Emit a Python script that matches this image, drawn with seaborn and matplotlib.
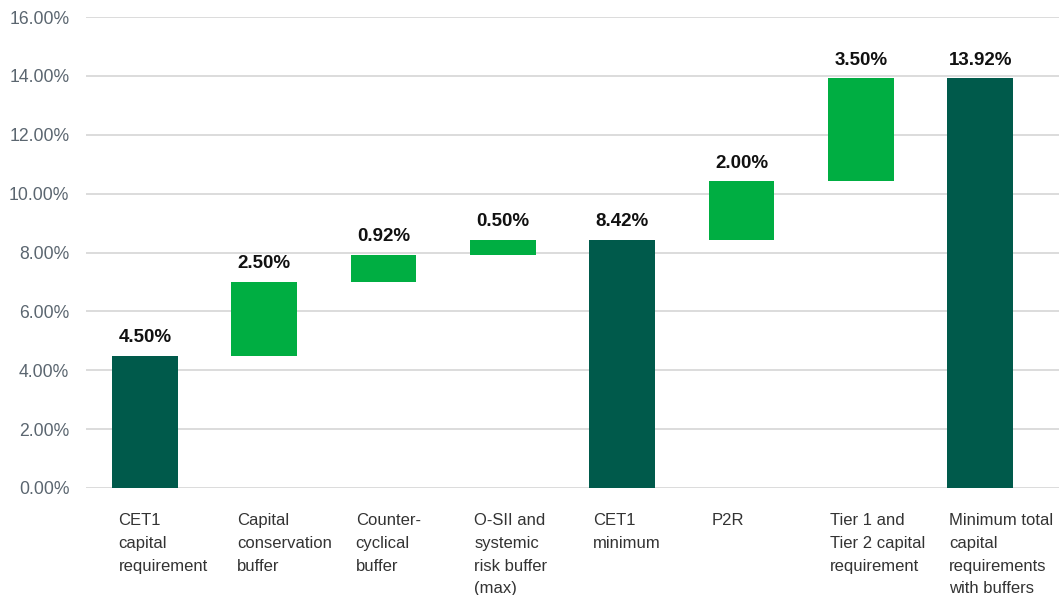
import matplotlib
matplotlib.use("Agg")
import matplotlib.pyplot as plt
import seaborn as sns
import numpy as np
import pandas as pd
from matplotlib.ticker import FuncFormatter

categories = ["CET1\ncapital\nrequirement", "Capital\nconservation\nbuffer", "Counter-\ncyclical\nbuffer",
              "O-SII and\nsystemic\nrisk buffer\n(max)", "CET1\nminimum", "P2R",
              "Tier 1 and\nTier 2 capital\nrequirement", "Minimum total\ncapital\nrequirements\nwith buffers"]
values = [4.50, 2.50, 0.92, 0.50, 8.42, 2.00, 3.50, 13.92]
bottoms = [0, 4.50, 7.00, 7.92, 0, 8.42, 10.42, 0]
kinds = ["total", "step", "step", "step", "total", "step", "step", "total"]
yticks = [0, 2, 4, 6, 8, 10, 12, 14, 16]

DARK = "#005A4B"
GREEN = "#00AE42"

sns.set_theme(style="white")
plt.rcParams["font.family"] = ["Liberation Sans", "DejaVu Sans"]

fig = plt.figure(figsize=(10.59, 5.95), dpi=100)
ax = fig.add_axes([86/1059, 1-488/595, 1-86/1059, (488-17)/595])

df = pd.DataFrame({"cat": categories, "val": values})
sns.barplot(data=df, x="cat", y="val", bottom=bottoms, width=0.55, color=GREEN,
            saturation=1, ax=ax, zorder=3)
for p, k in zip(ax.patches, kinds):
    p.set_facecolor(DARK if k == "total" else GREEN)
    p.set_edgecolor("none")

ax.set_ylim(0, 16)
ax.set_xlim(-0.494, 7.66)
ax.set_yticks(yticks)
ax.yaxis.set_major_formatter(FuncFormatter(lambda v, _: f"{v:.2f}%"))
ax.grid(axis="y", color="#d9d9d9", linewidth=1.3, zorder=0)
ax.grid(axis="x", visible=False)
for s in ax.spines.values():
    s.set_visible(False)
ax.tick_params(axis="y", length=0, pad=12, labelsize=12.7, labelcolor="#5b6670")
ax.set_xticks(range(len(categories)))
ax.set_xticklabels([])
ax.tick_params(axis="x", length=0)
ax.set_xlabel("")
ax.set_ylabel("")

for i, (v, b, c) in enumerate(zip(values, bottoms, categories)):
    ax.annotate(f"{v:.2f}%", xy=(i, v + b), xytext=(0, 7), textcoords="offset points",
                ha="center", va="bottom", fontsize=13.5, fontweight="bold", color="#111111")
    ax.annotate(c, xy=(i - 0.275, 0), xycoords=("data", "axes fraction"), xytext=(4.5 - 0.5 * i, -18),
                textcoords="offset points", ha="left", va="top", fontsize=12,
                color="#333333", linespacing=1.65)

fig.savefig("out.png", dpi=100)
